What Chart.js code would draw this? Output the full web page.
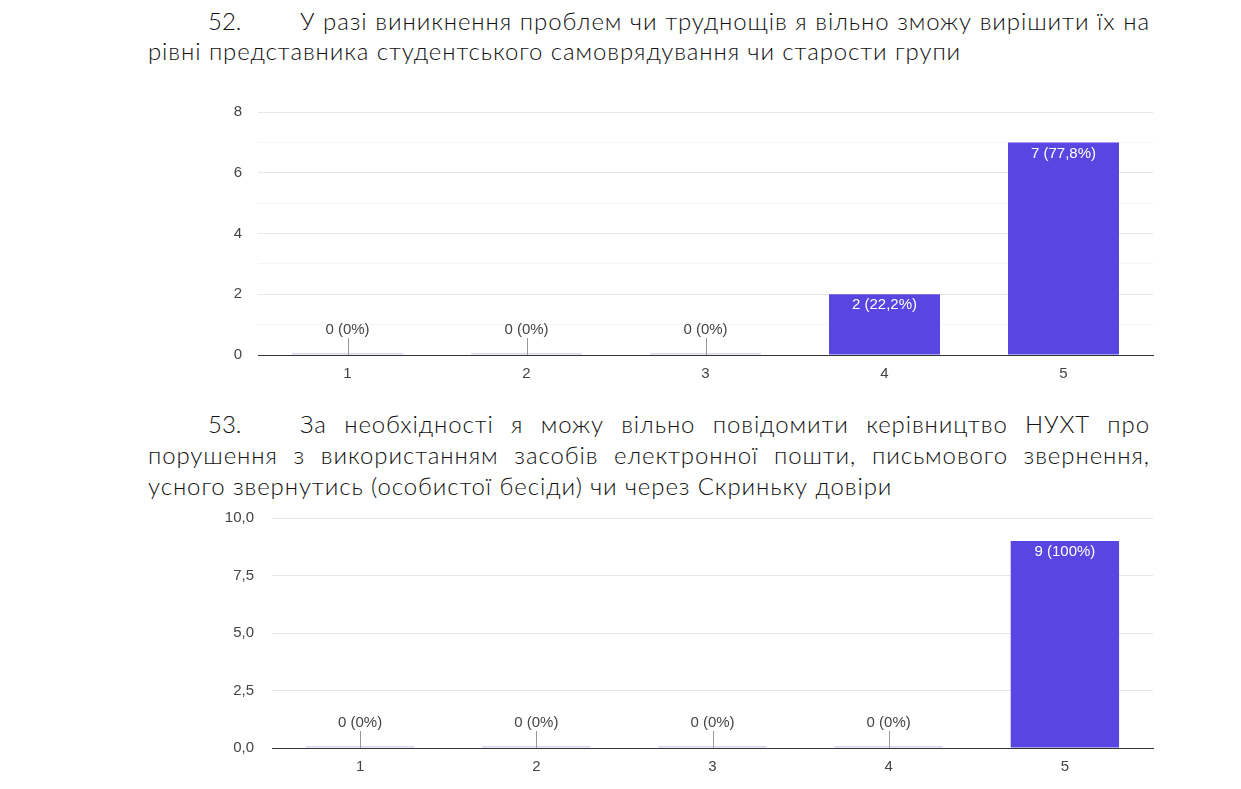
<!DOCTYPE html>
<html lang="uk">
<head>
<meta charset="utf-8">
<script src="https://cdn.jsdelivr.net/npm/chart.js@4/dist/chart.umd.min.js"></script>
<style>
    body { margin: 0; background: #fff; width: 1241px; height: 789px; position: relative; overflow: hidden; }
    .question {
        position: absolute; left: 148px; width: 1002px; margin: 0;
        font-family: Lato, sans-serif; font-weight: 300; font-size: 24px; letter-spacing: 0.9px; color: #111;
        text-align: justify; text-indent: 60px;
    }
    .question .num { display: inline-block; text-indent: 0; width: 92px; letter-spacing: 0; }
    .chart-box { position: absolute; left: 200px; width: 960px; }
</style>
</head>
<body>
<p class="question" style="top: 6px; line-height: 30px;"><span class="num">52.</span>У разі виникнення проблем чи труднощів я вільно зможу вирішити їх на рівні представника студентського самоврядування чи старости групи</p>
<div class="chart-box" style="top: 100px; height: 290px;"><canvas id="chart52"></canvas></div>

<p class="question" style="top: 408px; line-height: 31px;"><span class="num">53.</span>За необхідності я можу вільно повідомити керівництво НУХТ про порушення з використанням засобів електронної пошти, письмового звернення, усного звернутись (особистої бесіди) чи через Скриньку довіри</p>
<div class="chart-box" style="top: 505px; height: 280px;"><canvas id="chart53"></canvas></div>

<script>
const categories = ['1', '2', '3', '4', '5'];
const counts52 = [0, 0, 0, 2, 7];
const percents52 = ['0%', '0%', '0%', '22,2%', '77,8%'];
const counts53 = [0, 0, 0, 0, 9];
const percents53 = ['0%', '0%', '0%', '0%', '100%'];

const BAR_COLOR = '#5946e2';
const ZERO_COLOR = '#d8d5ee';
const TEXT_COLOR = '#444';
const FONT_FAMILY = '"Liberation Sans", Arial, sans-serif';

// подписи над/внутри столбцов: "n (p%)"
const barLabelPlugin = {
    id: 'barLabels',
    afterDatasetsDraw: (chart) => {
        const ctx = chart.ctx;
        const percents = chart.options.plugins.barLabels.percents;
        const meta = chart.getDatasetMeta(0);
        ctx.save();
        ctx.font = '15px ' + FONT_FAMILY;
        ctx.textAlign = 'center';
        ctx.textBaseline = 'middle';
        for (const [i, bar] of meta.data.entries()) {
            const value = chart.data.datasets[0].data[i];
            const text = `${value} (${percents[i]})`;
            const base = chart.scales.y.getPixelForValue(0);
            if (value > 0) {
                ctx.fillStyle = '#ffffff';
                ctx.fillText(text, bar.x, bar.y + 11);
            } else {
                ctx.strokeStyle = '#999';
                ctx.lineWidth = 1;
                ctx.beginPath();
                ctx.moveTo(Math.round(bar.x) + 0.5, base);
                ctx.lineTo(Math.round(bar.x) + 0.5, base - 17);
                ctx.stroke();
                ctx.fillStyle = TEXT_COLOR;
                ctx.fillText(text, bar.x, base - 25);
            }
        }
        ctx.restore();
    }
};

const makeChart = (canvas_id, values, percents, opts) => {
    return new Chart(document.getElementById(canvas_id), {
        type: 'bar',
        data: {
            labels: categories,
            datasets: [{
                data: values,
                backgroundColor: values.map(v => v > 0 ? BAR_COLOR : ZERO_COLOR),
                barPercentage: opts.barPercentage,
                categoryPercentage: 1,
                minBarLength: 2,
            }]
        },
        options: {
            responsive: true,
            maintainAspectRatio: false,
            animation: false,
            layout: { padding: { top: opts.top, right: 7, bottom: 0, left: 0 } },
            plugins: {
                legend: { display: false },
                tooltip: { enabled: false },
                barLabels: { percents: percents },
            },
            scales: {
                x: {
                    grid: { display: false, drawTicks: false },
                    border: { color: '#333', width: 1 },
                    ticks: { color: TEXT_COLOR, padding: opts.xPad, font: { size: 15, family: FONT_FAMILY } },
                    afterFit: (scale) => { scale.height = opts.xHeight; },
                },
                y: {
                    min: 0,
                    max: opts.max,
                    ticks: {
                        stepSize: opts.step,
                        color: TEXT_COLOR,
                        padding: 0,
                        font: { size: 15, family: FONT_FAMILY },
                        callback: opts.tickLabel,
                    },
                    grid: {
                        // невидимые засечки дают отступ подписей от области графика
                        tickLength: opts.yGap,
                        tickColor: 'transparent',
                        color: (c) => opts.minor(c.tick.value) ? '#f4f4f4' : '#e6e6e6',
                    },
                    border: { display: false },
                    afterFit: (scale) => { scale.width = opts.yWidth; },
                },
            },
        },
        plugins: [barLabelPlugin],
    });
};

makeChart('chart52', counts52, percents52, {
    max: 8, step: 1, top: 12, yWidth: 58, yGap: 16, xHeight: 35, xPad: 10,
    barPercentage: 0.62,
    tickLabel: (v) => v % 2 === 0 ? String(v) : '',
    minor: (v) => v % 2 !== 0,
});

makeChart('chart53', counts53, percents53, {
    max: 10, step: 2.5, top: 13, yWidth: 72, yGap: 18, xHeight: 37, xPad: 10,
    barPercentage: 0.615,
    tickLabel: (v) => v.toFixed(1).replace('.', ','),
    minor: () => false,
});
</script>
</body>
</html>
